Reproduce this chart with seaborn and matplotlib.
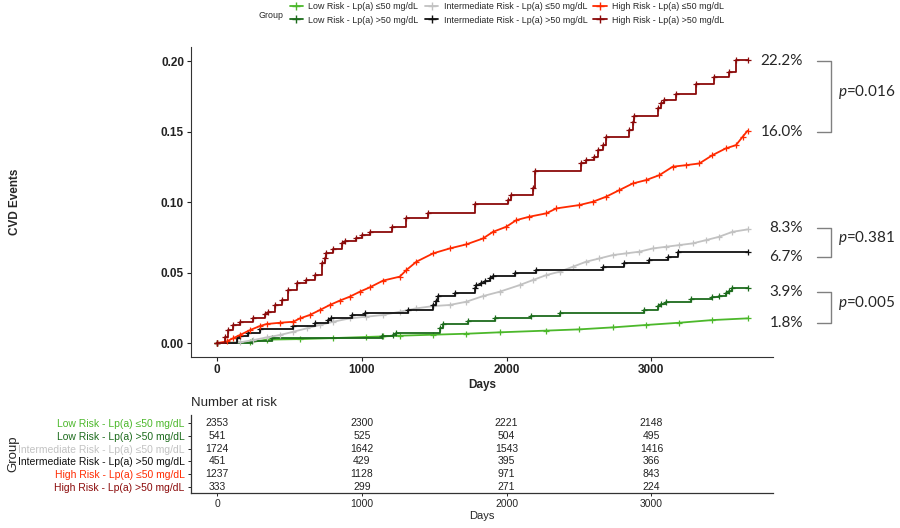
import matplotlib
matplotlib.use("Agg")
import matplotlib.pyplot as plt
from matplotlib.lines import Line2D
import pandas as pd
import seaborn as sns

# groups and colours
groups = ["Low Risk - Lp(a) \u226450 mg/dL", "Low Risk - Lp(a) >50 mg/dL",
          "Intermediate Risk - Lp(a) \u226450 mg/dL", "Intermediate Risk - Lp(a) >50 mg/dL",
          "High Risk - Lp(a) \u226450 mg/dL", "High Risk - Lp(a) >50 mg/dL"]
colors = ["#4CB82B", "#1C6B1C", "#C2C2C2", "#111111", "#FF2A00", "#8B0A0A"]

# cumulative CVD event curves (days, rate)
low_le50_days = [0, 228, 343, 573, 802, 1032, 1147, 1262, 1492, 1722, 1952, 2274, 2503, 2733, 2963, 3193, 3422, 3664]
low_le50_rate = [0, 0.0005, 0.0024, 0.0028, 0.0035, 0.0043, 0.0047, 0.0052, 0.0059, 0.0066, 0.0076, 0.0088, 0.0097,
                 0.0111, 0.0128, 0.0144, 0.0163, 0.0175]

low_gt50_days = [0, 239, 377, 1136, 1216, 1239, 1538, 1561, 1734, 1917, 2170, 2366, 2952, 3044, 3067, 3101, 3274,
                 3422, 3468, 3514, 3538, 3560, 3664]
low_gt50_rate = [0, 0.0017, 0.0038, 0.0050, 0.0057, 0.0073, 0.0104, 0.0135, 0.0156, 0.0175, 0.0194, 0.0215, 0.0234,
                 0.0263, 0.0277, 0.0293, 0.0312, 0.0329, 0.0336, 0.0357, 0.0371, 0.0393, 0.0393]

int_le50_days = [0, 159, 251, 343, 435, 527, 618, 710, 802, 917, 1032, 1147, 1262, 1377, 1492, 1607, 1722, 1837, 1952,
                 2090, 2182, 2274, 2366, 2457, 2549, 2641, 2733, 2825, 2917, 3009, 3101, 3193, 3285, 3377, 3468, 3560, 3664]
int_le50_rate = [0, 0.0005, 0.0021, 0.0040, 0.0057, 0.0080, 0.0104, 0.0128, 0.0151, 0.0175, 0.0187, 0.0199, 0.0222,
                 0.0246, 0.0262, 0.0270, 0.0293, 0.0333, 0.0364, 0.0411, 0.0447, 0.0482, 0.0506, 0.0541, 0.0577,
                 0.0600, 0.0624, 0.0636, 0.0648, 0.0671, 0.0683, 0.0695, 0.0707, 0.0730, 0.0754, 0.0789, 0.0806]

int_gt50_days = [0, 136, 160, 216, 297, 527, 676, 768, 790, 929, 1021, 1320, 1492, 1515, 1527, 1642, 1780, 1791, 1826,
                 1849, 1883, 1906, 2055, 2205, 2664, 2814, 2986, 3113, 3182, 3664]
int_gt50_rate = [0, 0.0035, 0.0047, 0.0071, 0.0099, 0.0123, 0.0142, 0.0166, 0.0177, 0.0201, 0.0213, 0.0236, 0.0272,
                 0.0296, 0.0331, 0.0355, 0.0390, 0.0414, 0.0426, 0.0437, 0.0461, 0.0473, 0.0494, 0.0518, 0.0541,
                 0.0565, 0.0589, 0.0612, 0.0648, 0.0648]

high_le50_days = [0, 67, 113, 159, 228, 297, 343, 435, 527, 573, 641, 710, 779, 848, 917, 986, 1055, 1147, 1262, 1308,
                  1377, 1492, 1607, 1722, 1837, 1906, 1998, 2067, 2156, 2274, 2343, 2503, 2595, 2687, 2779, 2871,
                  2963, 3055, 3147, 3239, 3331, 3422, 3514, 3584, 3630, 3664]
high_le50_rate = [0, 0.0011, 0.0035, 0.0057, 0.0092, 0.0121, 0.0135, 0.0144, 0.0151, 0.0175, 0.0199, 0.0234, 0.0270,
                  0.0301, 0.0329, 0.0364, 0.0395, 0.0443, 0.0471, 0.0518, 0.0577, 0.0636, 0.0671, 0.0700, 0.0742,
                  0.0789, 0.0825, 0.0872, 0.0896, 0.0920, 0.0955, 0.0979, 0.1002, 0.1038, 0.1085, 0.1132, 0.1156,
                  0.1191, 0.1251, 0.1262, 0.1274, 0.1333, 0.1381, 0.1404, 0.1463, 0.1506]

high_gt50_days = [0, 55, 78, 113, 159, 246, 331, 354, 400, 446, 492, 549, 614, 676, 722, 745, 756, 802, 860, 883, 963,
                  998, 1055, 1205, 1308, 1457, 1779, 2009, 2032, 2180, 2193, 2515, 2550, 2607, 2630, 2664, 2687, 2848,
                  2871, 2883, 3044, 3067, 3090, 3170, 3308, 3434, 3538, 3584, 3664]
high_gt50_rate = [0, 0.0045, 0.0092, 0.0128, 0.0151, 0.0180, 0.0203, 0.0222, 0.0270, 0.0305, 0.0376, 0.0423, 0.0450,
                  0.0480, 0.0565, 0.0600, 0.0640, 0.0664, 0.0707, 0.0726, 0.0742, 0.0766, 0.0790, 0.0825, 0.0884,
                  0.0920, 0.0983, 0.1014, 0.1050, 0.1100, 0.1222, 0.1274, 0.1298, 0.1321, 0.1369, 0.1404, 0.1459,
                  0.1510, 0.1570, 0.1612, 0.1664, 0.1700, 0.1723, 0.1770, 0.1840, 0.1890, 0.1924, 0.2007, 0.2007]

curve_days = [low_le50_days, low_gt50_days, int_le50_days, int_gt50_days, high_le50_days, high_gt50_days]
curve_rate = [low_le50_rate, low_gt50_rate, int_le50_rate, int_gt50_rate, high_le50_rate, high_gt50_rate]
dense = [True, False, True, False, True, False]

# number at risk table
risk_days = [0, 1000, 2000, 3000]
risk_low_le50 = [2353, 2300, 2221, 2148]
risk_low_gt50 = [541, 525, 504, 495]
risk_int_le50 = [1724, 1642, 1543, 1416]
risk_int_gt50 = [451, 429, 395, 366]
risk_high_le50 = [1237, 1128, 971, 843]
risk_high_gt50 = [333, 299, 271, 224]
risk_rows = [risk_low_le50, risk_low_gt50, risk_int_le50, risk_int_gt50, risk_high_le50, risk_high_gt50]

# end-of-follow-up annotations
end_labels = ["22.2%", "16.0%", "8.3%", "6.7%", "3.9%", "1.8%"]
end_label_y = [0.2000, 0.1497, 0.0816, 0.0613, 0.0362, 0.0144]
p_labels = ["0.016", "0.381", "0.005"]

sns.set_style("ticks")
plt.rcParams["font.family"] = ["Liberation Sans", "DejaVu Sans"]
plt.rcParams["mathtext.fontset"] = "custom"
plt.rcParams["mathtext.it"] = "Lato:italic"
plt.rcParams["mathtext.rm"] = "Lato"

fig = plt.figure(figsize=(9, 5.28), dpi=100)
ax = fig.add_axes([0.2122, 0.3239, 0.6467, 0.587])

for g, c, d, r, dn in zip(groups, colors, curve_days, curve_rate, dense):
    df = pd.DataFrame({"day": d, "rate": r})
    sns.lineplot(data=df, x="day", y="rate", color=c, ax=ax, estimator=None, sort=False,
                 drawstyle="default" if dn else "steps-post", lw=1.3,
                 marker="+", markersize=4.5, mew=0.9, mec=c, legend=False)

ax.set_xlim(-180, 3840)
ax.set_ylim(-0.0099, 0.21)
ax.set_xticks(risk_days)
ax.set_yticks([0, 0.05, 0.10, 0.15, 0.20])
ax.set_yticklabels(["0.00", "0.05", "0.10", "0.15", "0.20"])
ax.tick_params(labelsize=8.5, length=3, width=0.8, colors="#222222", pad=2)
for lbl in ax.get_xticklabels() + ax.get_yticklabels():
    lbl.set_fontweight("bold")
ax.set_xlabel("Days", fontsize=8.5, fontweight="bold", labelpad=2)
ax.set_ylabel("CVD Events", fontsize=8.5, fontweight="bold")
ax.yaxis.set_label_coords(-0.292, 0.5)
sns.despine(ax=ax)
for s in ["left", "bottom"]:
    ax.spines[s].set_linewidth(0.8)
    ax.spines[s].set_color("#333333")

# right-hand annotations
tr = ax.get_yaxis_transform()
for lab, y in zip(end_labels, end_label_y):
    ax.text(1.0515, y, lab, transform=tr, ha="right", va="center", fontsize=11, family="Lato")
for i, p in enumerate(p_labels):
    y0, y1 = end_label_y[2 * i], end_label_y[2 * i + 1]
    ax.plot([1.0756, 1.0997, 1.0997, 1.0756], [y0, y0, y1, y1], transform=tr, color="#808080", lw=1.0,
            clip_on=False)
    ax.text(1.1117, (y0 + y1) / 2 + 0.003, r"$p$=" + p, transform=tr, ha="left", va="center",
            fontsize=11, family="Lato")

# legend
handles = [Line2D([], [], color=c, lw=1.3, marker="+", markersize=5.5, mew=1.0) for c in colors]
fig.legend(handles, groups, ncol=3, loc="upper left", bbox_to_anchor=(0.313, 1.012), frameon=False,
           fontsize=6.4, handlelength=1.5, handletextpad=0.6, columnspacing=0.7, labelspacing=0.55)
fig.text(0.287, 0.971, "Group", fontsize=6.4, va="center", ha="left")

# risk table
ax2 = fig.add_axes([0.2122, 0.0663, 0.6467, 0.1477])
for i, row in enumerate(risk_rows):
    for dday, n in zip(risk_days, row):
        ax2.text(dday, i, str(n), ha="center", va="center", fontsize=7.5, color="#222222")
ax2.set_xlim(-180, 3840)
ax2.set_ylim(5.47, -0.625)
ax2.set_xticks(risk_days)
ax2.set_yticks(range(len(groups)))
ax2.set_yticklabels(groups)
for lbl, c in zip(ax2.get_yticklabels(), colors):
    lbl.set_color(c)
ax2.tick_params(labelsize=7.5, length=2.5, width=0.7, pad=2)
ax2.set_xlabel("Days", fontsize=8, labelpad=1)
ax2.set_ylabel("Group", fontsize=9.5)
ax2.yaxis.set_label_coords(-0.295, 0.5)
ax2.text(0.0, 1.154, "Number at risk", transform=ax2.transAxes, ha="left", va="center", fontsize=9.5)
sns.despine(ax=ax2)
for s in ["left", "bottom"]:
    ax2.spines[s].set_linewidth(0.9)
    ax2.spines[s].set_color("#333333")

fig.savefig("out.png", dpi=100)
